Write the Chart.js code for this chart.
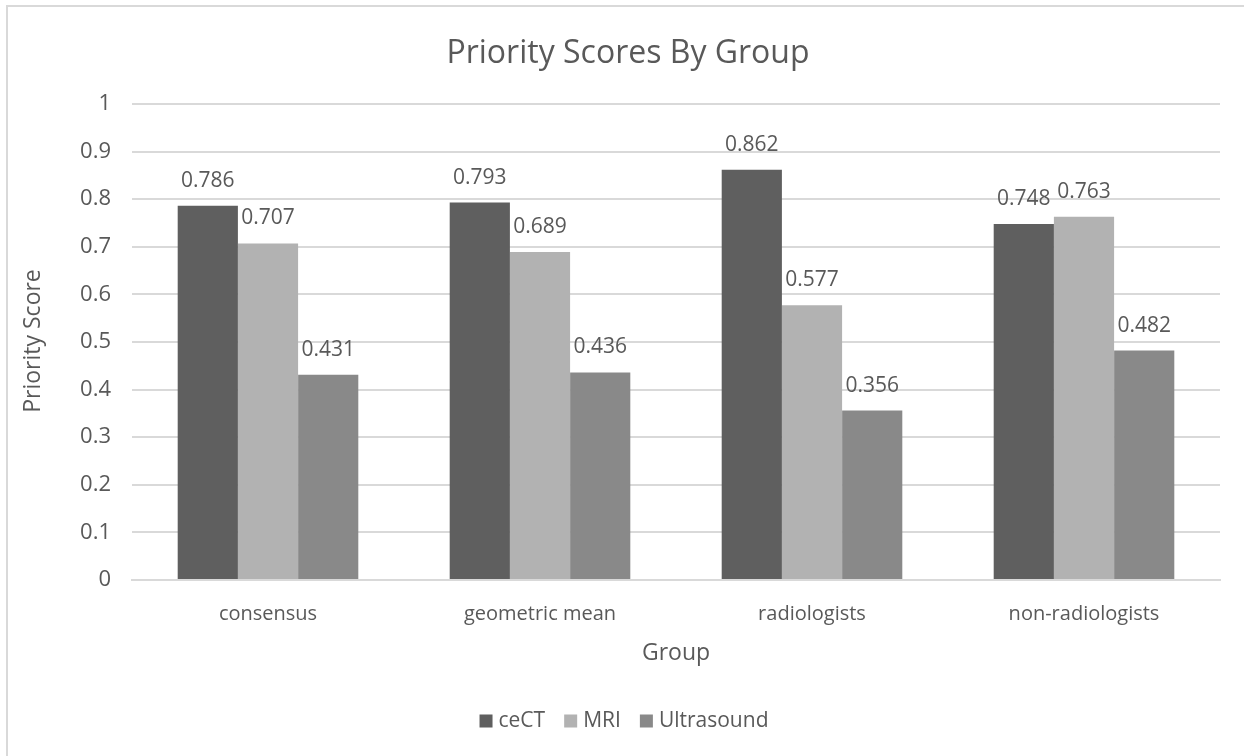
<!DOCTYPE html>
<html>
<head>
<meta charset="utf-8">
<script src="https://cdn.jsdelivr.net/npm/chart.js@4"></script>
<style>
  html, body { margin: 0; padding: 0; background: #ffffff; }
  #wrap { position: relative; width: 1244px; height: 756px; }
</style>
</head>
<body>
<div id="wrap"><canvas id="chart" width="1244" height="756"></canvas></div>
<script>
// Groups along the x axis
const categories = ['consensus', 'geometric mean', 'radiologists', 'non-radiologists'];

// Priority score per imaging modality
const ceCT = [0.786, 0.793, 0.862, 0.748];
const mri = [0.707, 0.689, 0.577, 0.763];
const ultrasound = [0.431, 0.436, 0.356, 0.482];

// Y axis tick labels
const yTicks = ['0', '0.1', '0.2', '0.3', '0.4', '0.5', '0.6', '0.7', '0.8', '0.9', '1'];

const TEXT = '#595959';
const GRID = '#d9d9d9';
const FONT = '"Open Sans", "Liberation Sans", sans-serif';

// Frame, title, axis titles, legend and value labels
const decorations = {
  id: 'decorations',
  beforeDraw(chart) {
    const ctx = chart.ctx;
    ctx.save();
    ctx.fillStyle = '#ffffff';
    ctx.fillRect(0, 0, chart.width, chart.height);
    ctx.strokeStyle = GRID;
    ctx.lineWidth = 2;
    ctx.strokeRect(7, 6, chart.width + 20, chart.height + 20);
    ctx.restore();
  },
  afterDatasetsDraw(chart) {
    const ctx = chart.ctx;
    const area = chart.chartArea;
    ctx.save();
    ctx.fillStyle = TEXT;

    // value labels above each bar
    ctx.font = '21px ' + FONT;
    ctx.textAlign = 'center';
    ctx.textBaseline = 'middle';
    chart.data.datasets.forEach((ds, i) => {
      chart.getDatasetMeta(i).data.forEach((bar, j) => {
        ctx.fillText(String(ds.data[j]), bar.x, bar.y - 25);
      });
    });

    // chart title
    ctx.font = '32px ' + FONT;
    ctx.fillText('Priority Scores By Group', 628, 54);

    // axis titles
    ctx.font = '23px ' + FONT;
    ctx.fillText('Group', (area.left + area.right) / 2, 653);
    ctx.save();
    ctx.translate(33, 341);
    ctx.rotate(-Math.PI / 2);
    ctx.fillText('Priority Score', 0, 0);
    ctx.restore();

    // legend
    ctx.font = '21px ' + FONT;
    const box = 13, gapBox = 6, gapItem = 19, ly = 721;
    const items = chart.data.datasets.map(ds => ({
      label: ds.label, color: ds.backgroundColor,
      w: box + gapBox + ctx.measureText(ds.label).width
    }));
    const total = items.reduce((s, it) => s + it.w, 0) + gapItem * (items.length - 1);
    let lx = 624 - total / 2;
    ctx.textAlign = 'left';
    items.forEach(it => {
      ctx.fillStyle = it.color;
      ctx.fillRect(lx, ly - box / 2, box, box);
      ctx.fillStyle = TEXT;
      ctx.fillText(it.label, lx + box + gapBox, ly);
      lx += it.w + gapItem;
    });
    ctx.restore();
  }
};

new Chart(document.getElementById('chart'), {
  type: 'bar',
  data: {
    labels: categories,
    datasets: [
      { label: 'ceCT', data: ceCT, backgroundColor: '#5f5f5f' },
      { label: 'MRI', data: mri, backgroundColor: '#b2b2b2' },
      { label: 'Ultrasound', data: ultrasound, backgroundColor: '#898989' }
    ]
  },
  options: {
    responsive: false,
    animation: false,
    layout: { padding: { top: 104, right: 24, bottom: 0, left: 0 } },
    datasets: { bar: { categoryPercentage: 0.664, barPercentage: 1, borderWidth: 0 } },
    plugins: {
      legend: { display: false },
      title: { display: false },
      tooltip: { enabled: false }
    },
    scales: {
      x: {
        afterFit(scale) { scale.height = 176; },
        grid: { display: false, drawTicks: false },
        border: { display: true, color: GRID, width: 2 },
        ticks: { color: TEXT, font: { family: FONT, size: 20 }, padding: 22, maxRotation: 0 }
      },
      y: {
        min: 0, max: 1,
        afterFit(scale) { scale.width = 132; },
        afterBuildTicks(scale) {
          scale.ticks = yTicks.map(t => ({ value: Number(t) }));
        },
        grid: { color: GRID, lineWidth: 2, drawTicks: false },
        border: { display: false },
        ticks: {
          color: TEXT, font: { family: FONT, size: 22 }, padding: 21,
          callback: (v, i) => yTicks[i]
        }
      }
    }
  },
  plugins: [decorations]
});
</script>
</body>
</html>
